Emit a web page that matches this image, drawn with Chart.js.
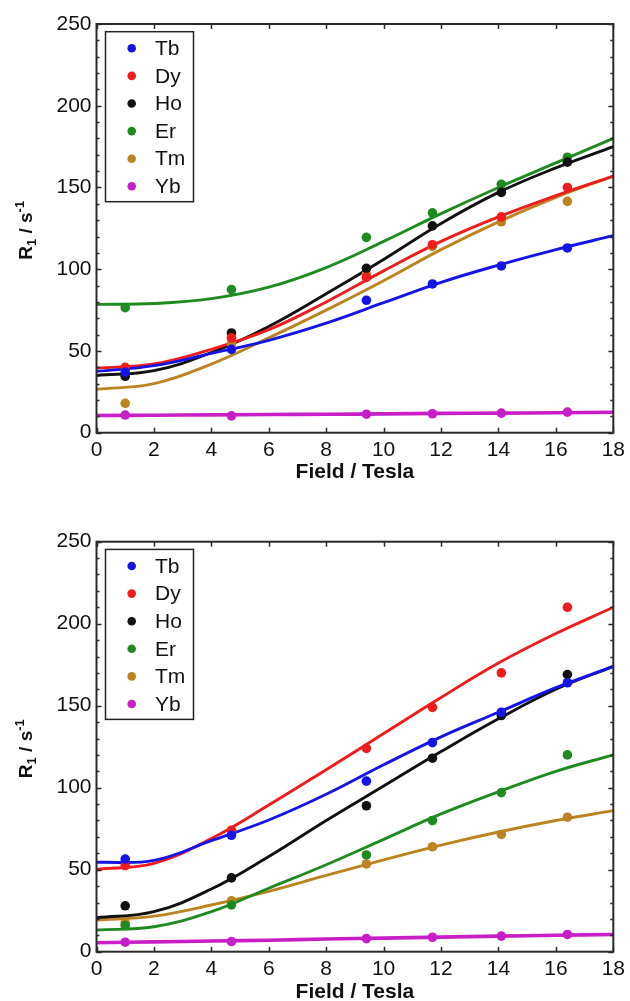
<!DOCTYPE html>
<html>
<head>
<meta charset="utf-8">
<script src="https://cdn.jsdelivr.net/npm/chart.js@4.4.1/dist/chart.umd.min.js"></script>
<style>
    html, body { margin: 0; padding: 0; background: #fff; overflow: hidden; }
    .plot { position: absolute; left: 0; width: 630px; }
    #wrapTop { top: 0; height: 490px; }
    #wrapBottom { top: 490px; height: 520px; }
</style>
</head>
<body>
<div class="plot" id="wrapTop"><canvas id="chartTop" width="630" height="490"></canvas></div>
<div class="plot" id="wrapBottom"><canvas id="chartBottom" width="630" height="520"></canvas></div>

<script>
// ── Datos ──
const ions = ['Tb', 'Dy', 'Ho', 'Er', 'Tm', 'Yb'];
const ionColors = ['#1414e6', '#ee1c1c', '#111111', '#1f8a1f', '#bb8420', '#c81ec8'];

// campos medidos (T) y abscisas de las curvas ajustadas
const fields = [1.0, 4.7, 9.4, 11.7, 14.1, 16.4];
const fitFields = [0, 2, 4, 6, 8, 10, 12, 14, 16, 18];

const xTicks = [0, 2, 4, 6, 8, 10, 12, 14, 16, 18];
const yTicks = [0, 50, 100, 150, 200, 250];

// --- gráfico superior: puntos ---
const topTb = [37, 51, 81, 91, 102, 113];
const topDy = [40, 58, 95, 115, 132, 150];
const topHo = [34.5, 61, 100.5, 126.5, 147, 165.5];
const topEr = [76.5, 87.5, 119.5, 134.5, 152, 168.5];
const topTm = [18, 54.5, 97, 114, 129, 141.5];
const topYb = [10.8, 10.3, 11.3, 11.6, 12, 12.6];

// --- gráfico superior: curvas ---
const topTbFit = [37.5, 41, 48.5, 56.5, 67, 79.5, 92, 102.5, 112, 120.5];
const topDyFit = [39.5, 42, 51, 63, 80, 99, 117, 132, 145, 157];
const topHoFit = [35, 38, 49, 65, 85, 106, 128, 147, 162, 175];
const topErFit = [78.5, 79, 82, 89, 101, 117, 134, 150, 165, 180];
const topTmFit = [26.5, 30, 42, 58, 75, 93, 112, 129, 144, 157];
const topYbFit = [10.5, 10.7, 10.9, 11.1, 11.3, 11.5, 11.8, 12, 12.2, 12.5];

// --- gráfico inferior: puntos ---
const botTb = [56.5, 71, 104, 127.5, 146, 164];
const botDy = [52.5, 74, 124, 149, 170, 210];
const botHo = [28, 45, 89, 118, 144, 169];
const botEr = [16, 28.5, 59, 80, 97, 120];
const botTm = [17.5, 31, 53.5, 64, 71.5, 82];
const botYb = [5.8, 6.2, 8, 8.8, 9.5, 10.5];

// --- gráfico inferior: curvas ---
const botTbFit = [54.5, 55.7, 67.7, 80.3, 96, 114, 131, 146, 161, 174];
const botDyFit = [50.2, 53.9, 69, 89.4, 111, 133, 155, 176, 194, 210];
const botHoFit = [20.7, 24.4, 38.2, 58, 80, 101, 122, 142, 160, 174];
const botErFit = [13.2, 15.2, 24.4, 38.7, 53, 68.5, 84, 97.5, 110, 120];
const botTmFit = [19.3, 21.7, 28.5, 36.8, 46.5, 56, 65, 73, 80, 86];
const botYbFit = [5.5, 6, 6.5, 7, 7.7, 8.3, 8.9, 9.5, 10, 10.5];

const FONT = "'Liberation Sans', Arial, sans-serif";

function pairs(xs, ys) {
    return xs.map((x, i) => ({ x: x, y: ys[i] }));
}

function buildDatasets(points, fits) {
    const sets = [];
    ions.forEach((ion, i) => {
        sets.push({
            label: ion,
            data: pairs(fields, points[i]),
            showLine: false,
            pointRadius: 4.8,
            pointHoverRadius: 4.8,
            pointBorderWidth: 0,
            backgroundColor: ionColors[i],
            borderColor: ionColors[i],
            order: 0
        });
    });
    ions.forEach((ion, i) => {
        sets.push({
            label: ion + ' fit',
            data: pairs(fitFields, fits[i]),
            showLine: true,
            pointRadius: 0,
            borderWidth: ion === 'Yb' ? 3.6 : 2.9,
            borderColor: ionColors[i],
            backgroundColor: ionColors[i],
            tension: 0.4,
            order: 1
        });
    });
    return sets;
}

// ── Marco con marcas hacia dentro ──
const framePlugin = {
    id: 'frame',
    afterDatasetsDraw(chart) {
        const { ctx, chartArea: a, scales: { x, y } } = chart;
        ctx.save();
        ctx.strokeStyle = '#2a2a2a';
        ctx.lineWidth = 1.5;
        ctx.beginPath();
        for (let v = 0; v <= 250; v += 10) {
            const py = Math.round(y.getPixelForValue(v)) + 0.5;
            const len = v % 50 === 0 ? 5 : 3;
            ctx.moveTo(a.left, py); ctx.lineTo(a.left + len, py);
            ctx.moveTo(a.right, py); ctx.lineTo(a.right - len, py);
        }
        xTicks.forEach(v => {
            const px = Math.round(x.getPixelForValue(v)) + 0.5;
            ctx.moveTo(px, a.bottom); ctx.lineTo(px, a.bottom - 5);
            ctx.moveTo(px, a.top); ctx.lineTo(px, a.top + 5);
        });
        ctx.stroke();
        ctx.lineWidth = 2;
        ctx.strokeRect(a.left, a.top, a.right - a.left, a.bottom - a.top);
        ctx.restore();
    }
};

// ── Leyenda dentro del área ──
const legendBoxPlugin = {
    id: 'legendBox',
    afterDraw(chart) {
        const { ctx, chartArea: a } = chart;
        const left = a.left + 9, top = a.top + 7.7;
        ctx.save();
        ctx.fillStyle = '#fff';
        ctx.fillRect(left, top, 88, 170);
        ctx.strokeStyle = '#222';
        ctx.lineWidth = 1.5;
        ctx.strokeRect(left, top, 88, 170);
        ctx.font = '21px ' + FONT;
        ctx.textBaseline = 'middle';
        ctx.textAlign = 'left';
        ions.forEach((ion, i) => {
            const cy = a.top + 24.3 + i * 27.6;
            ctx.fillStyle = ionColors[i];
            ctx.beginPath();
            ctx.arc(a.left + 35.2, cy, 4.3, 0, Math.PI * 2);
            ctx.fill();
            ctx.fillStyle = '#111';
            ctx.fillText(ion, a.left + 58.5, cy + 1);
        });
        ctx.restore();
    }
};

// ── Título del eje Y con subíndice y superíndice ──
const yTitlePlugin = {
    id: 'yTitle',
    afterDraw(chart) {
        const { ctx, chartArea: a } = chart;
        const parts = [
            { t: 'R', size: 19, dy: 0 },
            { t: '1', size: 13, dy: 4 },
            { t: ' / s', size: 19, dy: 0 },
            { t: '-1', size: 13, dy: -8 }
        ];
        ctx.save();
        ctx.translate(32, (a.top + a.bottom) / 2 + 2);
        ctx.rotate(-Math.PI / 2);
        ctx.fillStyle = '#111';
        ctx.textBaseline = 'alphabetic';
        ctx.textAlign = 'left';
        let total = 0;
        parts.forEach(p => {
            ctx.font = 'bold ' + p.size + 'px ' + FONT;
            p.w = ctx.measureText(p.t).width;
            total += p.w;
        });
        let cx = -total / 2;
        parts.forEach(p => {
            ctx.font = 'bold ' + p.size + 'px ' + FONT;
            ctx.fillText(p.t, cx, p.dy);
            cx += p.w;
        });
        ctx.restore();
    }
};

function makeChart(id, datasets, geo) {
    return new Chart(document.getElementById(id), {
        type: 'scatter',
        data: { datasets: datasets },
        options: {
            responsive: false,
            animation: false,
            layout: { padding: { top: geo.top, left: 0, right: geo.right, bottom: 7.5 } },
            plugins: { legend: { display: false }, tooltip: { enabled: false } },
            scales: {
                x: {
                    type: 'linear',
                    min: 0, max: 18,
                    afterBuildTicks: s => { s.ticks = xTicks.map(v => ({ value: v })); },
                    afterFit: s => { s.height = geo.xHeight; },
                    grid: { display: false, drawTicks: false },
                    border: { display: false },
                    ticks: { autoSkip: false, maxRotation: 0, padding: 5, color: '#111', font: { size: 21 } },
                    title: {
                        display: true,
                        text: 'Field / Tesla',
                        color: '#111',
                        padding: 0,
                        font: { size: 21, weight: 'bold', lineHeight: 1 }
                    }
                },
                y: {
                    type: 'linear',
                    min: 0, max: 250,
                    afterBuildTicks: s => { s.ticks = yTicks.map(v => ({ value: v })); },
                    afterFit: s => { s.width = 96.5; },
                    grid: { display: false, drawTicks: false },
                    border: { display: false },
                    ticks: { autoSkip: false, padding: 5, color: '#111', font: { size: 21 } }
                }
            }
        },
        plugins: [framePlugin, legendBoxPlugin, yTitlePlugin]
    });
}

document.addEventListener('DOMContentLoaded', function () {
    Chart.defaults.font.family = FONT;
    Chart.defaults.color = '#111';

    makeChart('chartTop',
        buildDatasets([topTb, topDy, topHo, topEr, topTm, topYb],
                      [topTbFit, topDyFit, topHoFit, topErFit, topTmFit, topYbFit]),
        { top: 24, right: 15.5, xHeight: 49.8 });

    makeChart('chartBottom',
        buildDatasets([botTb, botDy, botHo, botEr, botTm, botYb],
                      [botTbFit, botDyFit, botHoFit, botErFit, botTmFit, botYbFit]),
        { top: 51.7, right: 14.7, xHeight: 50.8 });
});
</script>
</body>
</html>
